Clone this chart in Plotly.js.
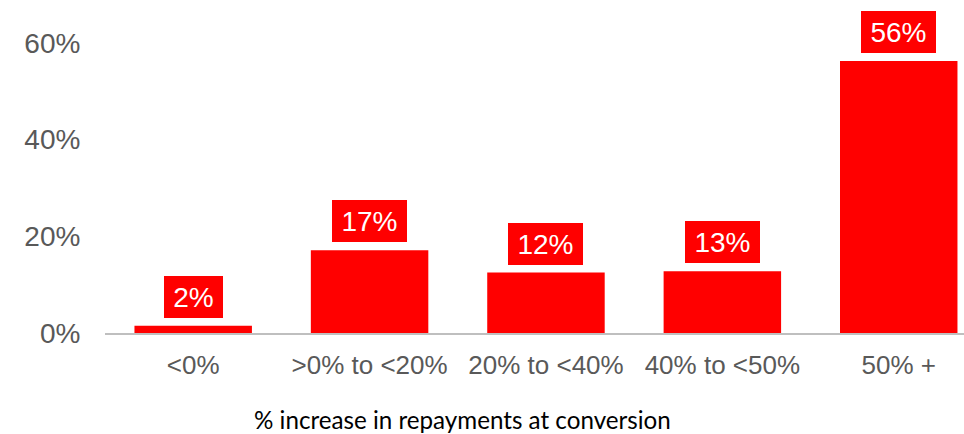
<!DOCTYPE html>
<html>
<head>
<meta charset="utf-8">
<script src="https://cdn.plot.ly/plotly-3.0.1.min.js"></script>
<style>html,body{margin:0;padding:0;background:#fff;}#chart{width:964px;height:434px;}</style>
</head>
<body>
<div id="chart"></div>
<script>
var categories = ["<0%", ">0% to <20%", "20% to <40%", "40% to <50%", "50% +"];
var values = [1.5, 17.1, 12.5, 12.8, 56.3];
var valueLabels = ["2%", "17%", "12%", "13%", "56%"];
var yTickVals = [0, 20, 40, 60];
var yTickText = ["0%", "20%", "40%", "60%"];
var xTitle = "% increase in repayments at conversion";

function esc(s){ return s.replace(/&/g,"&amp;").replace(/</g,"&lt;").replace(/>/g,"&gt;"); }

var trace = {
  type: "bar",
  x: categories,
  y: values,
  marker: {color: "#FF0000", line: {width: 0}},
  width: 0.666,
  hoverinfo: "none"
};

var annotations = categories.map(function(c, i){
  return {
    x: c, y: values[i], xref: "x", yref: "y",
    text: valueLabels[i], showarrow: false,
    yanchor: "bottom", xanchor: "center", yshift: 8,
    bgcolor: "#FF0000", borderpad: 0, borderwidth: 0,
    width: 27 + 16 * valueLabels[i].length, height: 42,
    font: {family: "Liberation Sans, Arial, sans-serif", size: 28, color: "#FFFFFF"}
  };
});
annotations.push({
  x: (462 - 105) / (964 - 105), y: (434 - 101 - 419) / (434 - 10 - 101),
  xref: "paper", yref: "paper",
  text: xTitle, showarrow: false, xanchor: "center", yanchor: "middle",
  font: {family: "Lato, sans-serif", size: 24.2, color: "#000000"}
});

var layout = {
  width: 964, height: 434,
  margin: {l: 105, r: 0, t: 10, b: 101, pad: 0},
  paper_bgcolor: "#FFFFFF", plot_bgcolor: "#FFFFFF",
  showlegend: false,
  xaxis: {
    type: "category",
    range: [-0.5, 4.37],
    tickvals: categories,
    ticktext: categories.map(esc),
    ticks: "outside", ticklen: 8, tickcolor: "rgba(0,0,0,0)",
    showline: true, linecolor: "#BFBFBF", linewidth: 1.5,
    showgrid: false, zeroline: false,
    tickfont: {family: "Liberation Sans, Arial, sans-serif", size: 26, color: "#595959"},
    automargin: false
  },
  yaxis: {
    range: [0, 66.83],
    tickvals: yTickVals, ticktext: yTickText,
    ticks: "outside", ticklen: 18, tickcolor: "rgba(0,0,0,0)",
    showline: false, showgrid: false, zeroline: false,
    tickfont: {family: "Liberation Sans, Arial, sans-serif", size: 28, color: "#595959"},
    automargin: false
  },
  annotations: annotations
};

Plotly.newPlot("chart", [trace], layout, {staticPlot: true, displayModeBar: false});
</script>
</body>
</html>
